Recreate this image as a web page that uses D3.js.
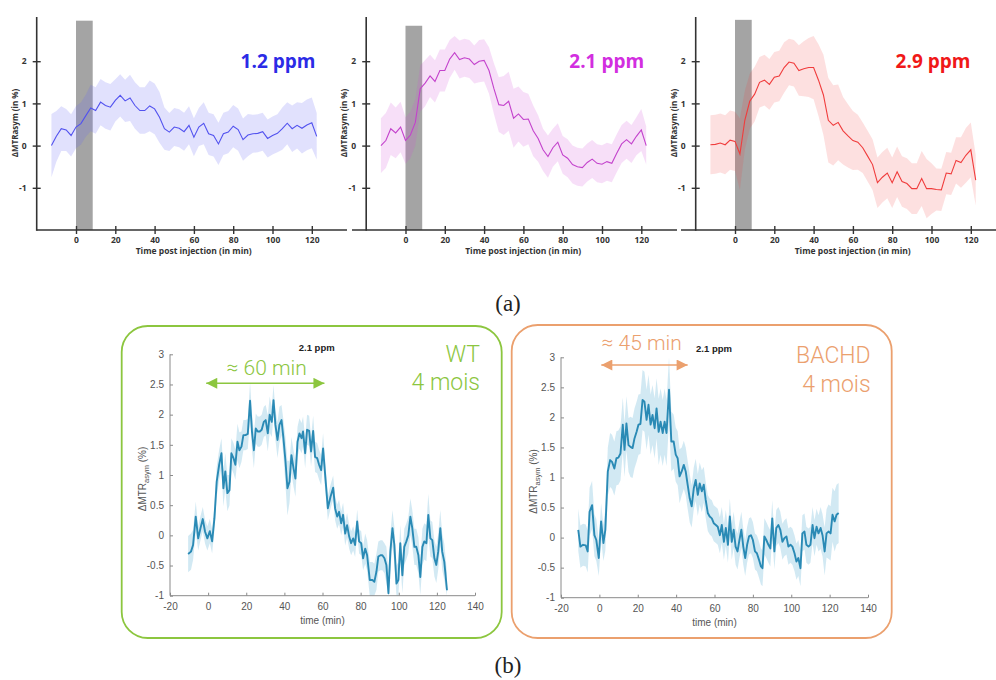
<!DOCTYPE html>
<html><head><meta charset="utf-8">
<script src="https://cdn.jsdelivr.net/npm/d3@7"></script>
<style>body{margin:0;background:#fff}svg{display:block}</style>
</head><body><svg id="c" width="996" height="680"></svg>
<script>
// ---------- DATA: top row (a) ----------
const topTimes = [-12.5,-10,-7.5,-5,-2.5,0,2.5,5,7.5,10,12.5,15,17.5,20,22.5,25,27.5,30,32.5,35,37.5,40,42.5,45,47.5,50,52.5,55,57.5,60,62.5,65,67.5,70,72.5,75,77.5,80,82.5,85,87.5,90,92.5,95,97.5,100,102.5,105,107.5,110,112.5,115,117.5,120,122.5];
const ppm12Mean = [0,0.22,0.40,0.37,0.24,0.44,0.52,0.71,0.89,0.83,1.03,0.95,0.91,1.07,1.19,1.06,1.13,0.95,0.83,0.83,0.94,0.87,0.67,0.40,0.32,0.44,0.41,0.33,0.48,0.20,0.44,0.53,0.28,0.24,0.04,0.28,0.32,0.46,0.38,0.14,0.25,0.28,0.29,0.33,0.17,0.24,0.29,0.40,0.53,0.40,0.48,0.41,0.49,0.54,0.22];
const ppm12Err  = [0.75,0.6,0.53,0.5,0.5,0.5,0.5,0.5,0.55,0.55,0.55,0.55,0.55,0.5,0.5,0.5,0.55,0.55,0.55,0.55,0.6,0.6,0.6,0.5,0.45,0.45,0.45,0.45,0.45,0.45,0.45,0.5,0.5,0.5,0.5,0.5,0.5,0.5,0.5,0.5,0.5,0.45,0.45,0.45,0.45,0.45,0.45,0.5,0.5,0.55,0.55,0.6,0.6,0.6,0.55];
const ppm21Mean = [0,0.12,0.40,0.30,0.44,0.12,0.25,0.55,1.35,1.48,1.65,1.52,1.78,1.78,2.05,2.20,2.04,2.08,2.05,1.92,2.00,2.02,1.78,1.35,0.97,0.95,1.05,0.65,0.75,0.62,0.63,0.35,0.17,-0.10,-0.26,-0.05,0.08,-0.22,-0.30,-0.45,-0.50,-0.52,-0.40,-0.32,-0.42,-0.44,-0.38,-0.42,-0.18,0.04,0.14,0.04,0.22,0.37,0.0];
const ppm21Err  = [0.65,0.65,0.62,0.6,0.6,0.55,0.55,0.55,0.55,0.55,0.5,0.5,0.5,0.5,0.45,0.4,0.45,0.45,0.45,0.45,0.5,0.5,0.55,0.6,0.65,0.7,0.7,0.7,0.65,0.65,0.6,0.6,0.55,0.5,0.5,0.45,0.45,0.45,0.45,0.45,0.45,0.45,0.45,0.45,0.45,0.45,0.45,0.45,0.45,0.45,0.45,0.45,0.45,0.5,0.45];
const ppm29Mean = [0.02,0.03,0.06,0.02,0.13,0.10,-0.20,0.60,1.05,1.22,1.50,1.55,1.45,1.62,1.65,1.85,1.98,1.95,1.78,1.82,1.85,1.85,1.55,1.20,0.60,0.48,0.55,0.35,0.23,0.12,0.08,-0.05,-0.25,-0.45,-0.88,-0.75,-0.65,-0.88,-0.62,-0.85,-0.90,-1.02,-1.02,-0.78,-1.02,-1.02,-1.04,-1.05,-0.65,-0.67,-0.35,-0.40,-0.23,-0.10,-0.82];
const ppm29Err  = [0.7,0.7,0.7,0.7,0.7,0.7,0.85,0.7,0.65,0.65,0.6,0.6,0.6,0.6,0.6,0.6,0.55,0.55,0.6,0.65,0.7,0.75,0.85,0.95,1.0,0.95,0.9,0.8,0.75,0.7,0.65,0.6,0.6,0.6,0.6,0.6,0.6,0.6,0.6,0.6,0.6,0.6,0.6,0.65,0.7,0.6,0.5,0.5,0.5,0.5,0.55,0.6,0.65,0.65,0.6];
const topTitles = ["1.2 ppm","2.1 ppm","2.9 ppm"];
const topXTicks = [0,20,40,60,80,100,120];
const topYTicks = [-1,0,1,2];
const injectionWindow = [0, 8.5];
const injectionBarTop = [2.96, 2.84, 2.98];

// ---------- DATA: bottom row (b) ----------
const wtTimes = [-10.5,-9,-7.9,-6.5,-5.2,-4,-2.8,-1.6,-0.4,0.9,
 2.1,3.3,4.5,5.8,7,8,9,10.1,11.2,12.2,
 13.3,14.3,15.4,16.4,17.5,18.5,19.6,20.8,22,23,
 24,25,26,27.1,28.1,29.2,30.2,31.3,32.3,33.4,
 34.3,35.3,36.4,37.4,38.5,39.5,40.6,41.6,42.7,43.7,
 44.8,45.8,46.9,47.9,49,49.8,50.9,51.9,53,54,
 55.1,56.1,57.2,58.2,59.3,60.3,61.4,62.8,64.2,65.6,
 66.6,67.7,68.7,69.8,70.8,71.9,72.9,74,75,76.1,
 77.1,78.2,79.2,80.3,81.3,82.4,83.4,84.8,86.2,87.2,
 88.3,89.3,90.4,91.4,92.5,93.5,94.6,95.6,96.7,97.7,
 98.8,99.8,100.8,101.9,102.9,104,105,106.1,107.1,108.2,
 109.2,110.3,111.3,112.4,113.4,114.5,115.5,116.6,117.6,118.7,
 119.7,120.7,121.8,122.8,123.9,125.3];
const wtMean = [-0.31,-0.27,-0.16,0.31,-0.05,0.12,0.27,0.06,-0.05,0.07,
 -0.10,0.28,0.89,1.17,1.36,0.78,1.06,0.70,0.75,1.36,
 1.28,1.17,1.55,1.41,1.47,1.66,1.66,1.68,2.23,1.72,
 1.41,1.77,1.72,1.72,1.75,1.88,1.91,1.69,2.00,1.88,
 2.24,1.83,1.58,1.83,1.91,1.61,1.22,0.78,0.89,1.33,
 1.11,0.94,1.55,1.69,1.61,1.72,1.36,1.75,1.73,1.39,
 1.73,1.30,1.28,1.17,1.08,1.44,1.00,0.45,0.64,0.79,
 0.45,0.31,0.39,0.20,0.34,0.03,0.17,-0.02,-0.13,-0.05,
 -0.16,0.23,-0.10,-0.13,-0.38,-0.22,-0.33,-0.74,-0.74,-0.77,
 -0.60,-0.35,-0.33,-0.33,-0.38,-0.49,-0.96,-0.27,0.12,-0.16,
 -0.80,-0.74,-0.13,-0.66,-0.19,-0.10,0.00,0.31,0.12,-0.19,
 -0.19,-0.33,-0.69,-0.19,-0.10,-0.13,0.34,-0.05,-0.08,-0.38,
 -0.49,-0.27,0.12,-0.27,-0.44,-0.91];
const wtErr = [0.3,0.3,0.25,0.25,0.2,0.2,0.2,0.2,0.2,0.2,
 0.2,0.2,0.25,0.25,0.25,0.3,0.3,0.3,0.25,0.25,
 0.25,0.25,0.3,0.3,0.25,0.25,0.25,0.25,0.3,0.3,
 0.3,0.25,0.25,0.25,0.25,0.25,0.25,0.3,0.3,0.25,
 0.25,0.25,0.3,0.3,0.25,0.3,0.4,0.45,0.35,0.3,
 0.3,0.3,0.25,0.25,0.25,0.25,0.25,0.25,0.25,0.25,
 0.25,0.25,0.25,0.25,0.25,0.25,0.25,0.2,0.2,0.2,
 0.2,0.2,0.2,0.2,0.2,0.2,0.2,0.2,0.2,0.2,
 0.2,0.2,0.2,0.2,0.2,0.25,0.25,0.3,0.3,0.3,
 0.3,0.25,0.25,0.25,0.25,0.3,0.35,0.3,0.3,0.3,
 0.3,0.3,0.3,0.3,0.3,0.3,0.3,0.3,0.3,0.3,
 0.3,0.3,0.3,0.3,0.3,0.3,0.35,0.3,0.3,0.3,
 0.3,0.3,0.3,0.3,0.3,0.3];
const bachdTimes = [-11,-9.9,-8.5,-7.1,-6.1,-5.1,-3.8,-2.6,-1.6,-0.3,
 0.9,2.1,3.1,4.4,5.6,6.6,7.8,8.9,9.9,11,
 12.2,13.1,14.1,15.2,16.2,17.3,18.3,19.4,20.4,21.4,
 22.5,23.5,24.6,25.6,26.7,27.7,28.8,29.8,30.9,31.9,
 33,34,35,36.3,37.5,38.7,39.8,40.8,41.8,42.9,
 44,45,46,47.1,48.1,49.2,50.2,51.3,52.3,53.4,
 54.4,55.4,56.5,57.5,58.6,59.6,60.7,61.7,62.8,63.8,
 64.9,65.9,67,68,69,70,71,72,73,74,
 75,76,77,78,79,80,81.1,82.1,83.2,84.2,
 85,86,87,88.1,89.1,90.1,91.2,92.2,93.3,94.3,
 95.4,96.4,97.5,98.5,99.6,100.6,101.7,102.7,103.7,104.8,
 105.8,106.9,107.9,109,110,111.1,112.1,113.2,114.2,115.3,
 116.3,117.4,118.4,119.4,120.5,121.5,122.6,123.6,124.7];
const bachdMean = [0.13,-0.15,-0.12,-0.13,-0.23,0.43,0.54,0.04,-0.04,-0.34,
 0.27,-0.09,0.13,1.10,1.29,1.26,1.15,1.32,1.33,1.40,
 1.88,1.46,1.90,1.54,1.51,1.49,1.65,1.76,1.88,1.89,
 2.29,2.26,1.96,2.21,1.88,2.04,1.82,2.15,1.76,1.93,
 1.74,1.93,1.74,2.46,1.60,1.60,1.38,1.32,1.02,1.10,
 1.21,1.10,0.88,0.65,0.52,0.82,0.96,0.71,0.90,0.77,
 0.88,0.63,0.41,0.35,0.32,0.24,0.21,0.18,0.04,0.21,
 -0.07,0.16,-0.12,0.35,-0.07,0.13,-0.15,-0.23,-0.04,0.13,
 -0.15,-0.34,-0.12,0.02,0.04,-0.04,-0.23,-0.26,-0.37,-0.48,
 -0.51,0.02,-0.04,-0.12,-0.18,0.32,-0.23,0.16,0.21,0.13,
 -0.07,-0.01,0.02,-0.15,-0.12,-0.15,-0.26,-0.40,-0.34,-0.51,
 0.07,0.10,-0.12,-0.15,-0.12,0.21,-0.01,0.18,0.07,0.16,
 0.04,-0.23,0.07,0.10,0.07,0.38,0.27,0.38,0.41];
const bachdErr = [0.35,0.35,0.35,0.35,0.35,0.4,0.4,0.35,0.35,0.3,
 0.3,0.3,0.35,0.4,0.45,0.45,0.45,0.45,0.45,0.45,
 0.45,0.45,0.45,0.45,0.5,0.5,0.5,0.5,0.5,0.5,
 0.5,0.5,0.5,0.5,0.5,0.5,0.5,0.5,0.55,0.55,
 0.55,0.55,0.55,0.55,0.5,0.45,0.45,0.45,0.45,0.4,
 0.4,0.4,0.4,0.4,0.35,0.35,0.35,0.35,0.35,0.35,
 0.3,0.3,0.3,0.3,0.3,0.3,0.3,0.3,0.3,0.3,
 0.3,0.3,0.3,0.3,0.3,0.3,0.3,0.3,0.3,0.3,
 0.3,0.3,0.3,0.3,0.3,0.3,0.3,0.3,0.3,0.3,
 0.3,0.3,0.3,0.3,0.3,0.3,0.3,0.3,0.3,0.3,
 0.3,0.3,0.3,0.3,0.3,0.3,0.3,0.3,0.3,0.3,
 0.3,0.3,0.3,0.3,0.3,0.3,0.3,0.3,0.3,0.35,
 0.35,0.4,0.4,0.45,0.45,0.45,0.5,0.5,0.5];
const bottomXTicks = [-20,0,20,40,60,80,100,120,140];
const bottomYTicks = [-1,-0.5,0,0.5,1,1.5,2,2.5,3];
const groupNames = ["WT","BACHD"];
const groupAge = ["4 mois","4 mois"];
const spanLabels = ["≈ 60 min","≈ 45 min"];
const spanRanges = [[-1,61],[1,46]];
const bottomTitle = "2.1 ppm";

// ---------- DRAW ----------
const svg = d3.select("#c");
const zip = (t,m,e) => t.map((v,i)=>({t:v,m:m[i],e:e[i]})).filter(d=>d.m!==undefined);

// top row
const topSeries = [[ppm12Mean,ppm12Err],[ppm21Mean,ppm21Err],[ppm29Mean,ppm29Err]];
const topStyle = [
 {ox:36.7, axisStart:36.7, axisEnd:347, line:"#5252ef", band:"#6a6af5", bandOp:0.2, title:"#2b2be6", tx:278},
 {ox:366.2, axisStart:352, axisEnd:677, line:"#c342cc", band:"#d050d8", bandOp:0.18, title:"#d22ee0", tx:606.7},
 {ox:695.7, axisStart:681, axisEnd:996, line:"#f03c3c", band:"#f04040", bandOp:0.16, title:"#f01818", tx:933}
];
const topFont = "'Open Sans', 'DejaVu Sans', sans-serif";
topStyle.forEach((s,i)=>{
  const x = d3.scaleLinear().domain([-20,135]).range([s.ox, s.ox + 155*1.965]);
  const y = d3.scaleLinear().domain([-2,3]).range([230,19]);
  const g = svg.append("g");
  const data = zip(topTimes, topSeries[i][0], topSeries[i][1]);
  // injection bar
  g.append("rect").attr("x", x(injectionWindow[0])).attr("width", x(injectionWindow[1]) - x(injectionWindow[0]))
    .attr("y", y(injectionBarTop[i])).attr("height", y(-2) - y(injectionBarTop[i]))
    .attr("fill", "#a4a4a4");
  g.append("path").datum(data)
    .attr("d", d3.area().x(d=>x(d.t)).y0(d=>y(d.m-d.e)).y1(d=>y(d.m+d.e)))
    .attr("fill", s.band).attr("fill-opacity", s.bandOp);
  g.append("path").datum(data)
    .attr("d", d3.line().x(d=>x(d.t)).y(d=>y(d.m)))
    .attr("fill","none").attr("stroke", s.line).attr("stroke-width", 1.1);
  // axes
  const ya = g.append("g").attr("transform",`translate(${s.ox},0)`)
    .call(d3.axisLeft(y).tickValues(topYTicks).tickSize(4).tickPadding(6).tickFormat(d=>String(d)));
  ya.select(".domain").remove();
  ya.selectAll(".tick line").attr("x1",4).attr("stroke","#333").attr("stroke-width",1.4);
  ya.selectAll("text").attr("font-family",topFont).attr("font-weight","bold").attr("font-size",8.5).attr("fill","#333");
  const xa = g.append("g").attr("transform",`translate(0,230)`)
    .call(d3.axisBottom(x).tickValues(topXTicks).tickSize(4).tickPadding(3));
  xa.select(".domain").remove();
  xa.selectAll(".tick line").attr("y1",-4).attr("stroke","#333").attr("stroke-width",1.4);
  xa.selectAll("text").attr("font-family",topFont).attr("font-weight","bold").attr("font-size",8.5).attr("fill","#333");
  g.append("line").attr("x1",s.ox).attr("x2",s.ox).attr("y1",17).attr("y2",230.8).attr("stroke","#333").attr("stroke-width",1.6);
  g.append("line").attr("x1",s.axisStart).attr("x2",s.axisEnd).attr("y1",230).attr("y2",230).attr("stroke","#333").attr("stroke-width",1.6);
  g.append("text").attr("x", s.ox+157).attr("y",254).attr("text-anchor","middle")
    .attr("font-family",topFont).attr("font-weight","bold").attr("font-size",8.5).attr("fill","#333")
    .text("Time post injection (in min)");
  g.append("text").attr("transform",`translate(${s.ox-19},123) rotate(-90)`).attr("text-anchor","middle")
    .attr("font-family",topFont).attr("font-weight","bold").attr("font-size",8).attr("fill","#333")
    .text("ΔMTRasym (in %)");
  g.append("text").attr("x", s.tx).attr("y",68).attr("text-anchor","middle")
    .attr("font-family",topFont).attr("font-weight","bold").attr("font-size",19).attr("fill",s.title)
    .text(topTitles[i]);
});
svg.append("text").attr("x",508).attr("y",311).attr("text-anchor","middle")
  .attr("font-family","'Liberation Serif','DejaVu Serif',serif").attr("font-size",23).attr("fill","#222").text("(a)");
svg.append("text").attr("x",508).attr("y",673).attr("text-anchor","middle")
  .attr("font-family","'Liberation Serif','DejaVu Serif',serif").attr("font-size",23).attr("fill","#222").text("(b)");

// bottom row
const botSeries = [[wtTimes,wtMean,wtErr],[bachdTimes,bachdMean,bachdErr]];
const botStyle = [
 {bx:121.7, by:326, bw:380, bh:312, col:"#8cc63f", x0:170, x1:475, yTop:354.3, yBot:595.7,
  nameRight:480, nameY:361.7, ageY:390, spanX:266.7, spanY:375, arrowY:383.3, titleX:316.7, titleY:351},
 {bx:511.7, by:325, bw:380, bh:313, col:"#eba06e", x0:561, x1:868, yTop:357.3, yBot:597.7,
  nameRight:870.7, nameY:363, ageY:391.7, spanX:641.7, spanY:350, arrowY:365, titleX:714, titleY:352.3}
];
const sans = "'Liberation Sans', Arial, sans-serif";
const light = "Roboto, 'Open Sans', sans-serif";
const defs = svg.append("defs");
botStyle.forEach((s,i)=>{
  ["s","e"].forEach(k=>{
    defs.append("marker").attr("id",`arr${k}${i}`).attr("viewBox","0 0 10 10")
      .attr("refX", 10).attr("refY",5).attr("markerWidth",12).attr("markerHeight",11)
      .attr("markerUnits","userSpaceOnUse").attr("orient","auto-start-reverse")
      .append("path").attr("d","M0,0 L10,5 L0,10 Z").attr("fill",s.col);
  });
  const g = svg.append("g");
  g.append("rect").attr("x",s.bx).attr("y",s.by).attr("width",s.bw).attr("height",s.bh)
    .attr("rx",26).attr("ry",26).attr("fill","none").attr("stroke",s.col).attr("stroke-width",1.8);
  const x = d3.scaleLinear().domain([-20,140]).range([s.x0,s.x1]);
  const y = d3.scaleLinear().domain([-1,3]).range([s.yBot,s.yTop]);
  const data = zip(botSeries[i][0], botSeries[i][1], botSeries[i][2]);
  g.append("path").datum(data)
    .attr("d", d3.area().x(d=>x(d.t)).y0(d=>y(Math.max(-1,d.m-d.e))).y1(d=>y(Math.min(3,d.m+d.e))))
    .attr("fill","#7fbfdc").attr("fill-opacity",0.35);
  g.append("path").datum(data)
    .attr("d", d3.line().x(d=>x(d.t)).y(d=>y(d.m)))
    .attr("fill","none").attr("stroke","#2a8ab5").attr("stroke-width",1.9).attr("stroke-linejoin","round");
  const ya = g.append("g").attr("transform",`translate(${s.x0},0)`)
    .call(d3.axisLeft(y).tickValues(bottomYTicks).tickSize(-3).tickPadding(6).tickFormat(d=>String(d)));
  ya.select(".domain").attr("stroke","#8a8a8a").attr("d",`M0,${s.yBot}V${s.yTop}`);
  ya.selectAll(".tick line").attr("stroke","#8a8a8a");
  ya.selectAll("text").attr("font-family",sans).attr("font-size",10).attr("fill","#555");
  const xa = g.append("g").attr("transform",`translate(0,${s.yBot})`)
    .call(d3.axisBottom(x).tickValues(bottomXTicks).tickSize(-3).tickPadding(7).tickFormat(d=>String(d)));
  xa.select(".domain").attr("stroke","#8a8a8a").attr("d",`M${s.x0},0H${s.x1}`);
  xa.selectAll(".tick line").attr("stroke","#8a8a8a");
  xa.selectAll("text").attr("font-family",sans).attr("font-size",10).attr("fill","#555");
  g.append("text").attr("x",(s.x0+s.x1)/2+0).attr("y",s.yBot+28).attr("text-anchor","middle")
    .attr("font-family",sans).attr("font-size",10).attr("fill","#555").text("time (min)");
  const yl = g.append("text").attr("transform",`translate(${s.x0-24},${(s.yTop+s.yBot)/2+4}) rotate(-90)`)
    .attr("text-anchor","middle").attr("font-family",sans).attr("font-size",10).attr("fill","#555");
  yl.append("tspan").text("ΔMTR");
  yl.append("tspan").attr("font-size",7.5).attr("dy",3).text("asym");
  yl.append("tspan").attr("dy",-3).text(" (%)");
  g.append("text").attr("x",s.titleX).attr("y",s.titleY).attr("text-anchor","middle")
    .attr("font-family",sans).attr("font-weight","bold").attr("font-size",9.5).attr("fill","#222").text(bottomTitle);
  g.append("text").attr("x",s.nameRight).attr("y",s.nameY).attr("text-anchor","end")
    .attr("font-family",light).attr("font-weight",300).attr("font-size",23).attr("fill",s.col).text(groupNames[i]);
  g.append("text").attr("x",s.nameRight).attr("y",s.ageY).attr("text-anchor","end")
    .attr("font-family",light).attr("font-weight",300).attr("font-size",23).attr("fill",s.col).text(groupAge[i]);
  g.append("text").attr("x",s.spanX).attr("y",s.spanY).attr("text-anchor","middle")
    .attr("font-family",light).attr("font-weight",300).attr("font-size",21).attr("fill",s.col).text(spanLabels[i]);
  g.append("line").attr("x1",x(spanRanges[i][0])).attr("x2",x(spanRanges[i][1]))
    .attr("y1",s.arrowY).attr("y2",s.arrowY).attr("stroke",s.col).attr("stroke-width",1.6)
    .attr("marker-start",`url(#arrs${i})`).attr("marker-end",`url(#arre${i})`);
});
</script></body></html>
